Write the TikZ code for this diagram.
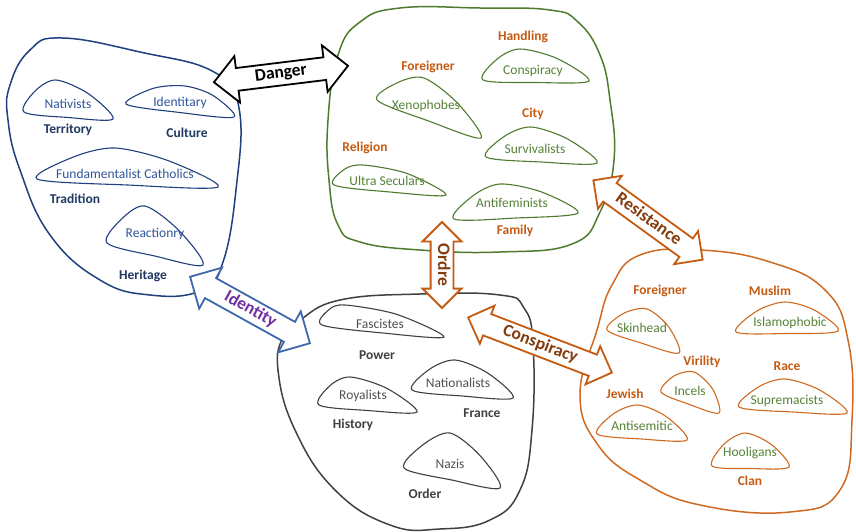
\documentclass[tikz,border=0pt]{standalone}
\usepackage{fontspec}
\setmainfont{Carlito}
\usetikzlibrary{shapes.arrows,calc}
\definecolor{bline}{HTML}{203F7F}
\definecolor{btext}{HTML}{2F5597}
\definecolor{blab}{HTML}{1F3864}
\definecolor{gline}{HTML}{4F7B2E}
\definecolor{gtext}{HTML}{548235}
\definecolor{oline}{HTML}{D06A22}
\definecolor{olab}{HTML}{C55A11}
\definecolor{obrown}{HTML}{843C0C}
\definecolor{kline}{HTML}{404040}
\definecolor{ktext}{HTML}{505050}
\definecolor{aline}{HTML}{3D68AE}
\definecolor{purp}{HTML}{7030A0}
\newcommand\inb[4]{\draw[#1,small] plot[smooth cycle, tension=0.5] coordinates {#2 ($#2!0.5!#3!7pt!90:#3$) #3 ($#3!0.5!#4!7pt!90:#4$) #4 ($#4!0.5!#2!2pt!90:#2$)};}
\begin{document}
\begin{tikzpicture}[x=1pt,y=-1pt,
  big/.style={line width=1.5pt},
  small/.style={line width=1.1pt},
  inl/.style={font=\fontsize{13.5}{15}\selectfont, inner sep=1pt},
  lab/.style={font=\fontsize{13.5}{15}\selectfont\bfseries, inner sep=1pt},
  darr/.style={double arrow, draw, fill=white, line width=1.8pt,
    double arrow head extend=12pt, inner xsep=0pt, inner ysep=3.5pt,
    font=\fontsize{17.5}{17}\selectfont\bfseries, text height=11pt, text depth=3pt,
    anchor=center},
  oarr/.style={darr, draw=olab, text=obrown, double arrow head extend=9pt}]
\useasboundingbox (0,0) rectangle (856,532);

% big blobs
\draw[bline,big] plot[smooth cycle, tension=0.75] coordinates {(10,85) (30,50) (62,38) (140,52) (214,72) (239,108) (236,190) (222,265) (200,291) (150,295) (100,280) (50,235) (20,170) (8,120)};
\draw[gline,big] plot[smooth cycle, tension=0.75] coordinates {(338,55) (360,22) (400,8) (480,8) (550,10) (578,22) (600,55) (610,100) (614,160) (600,212) (572,244) (500,252) (420,250) (360,242) (338,225) (329,180) (328,120)};
\draw[kline,big] plot[smooth cycle, tension=0.75] coordinates {(300,320) (340,300) (420,294) (500,295) (524,308) (533,345) (532,430) (520,490) (490,520) (440,529) (390,525) (335,490) (295,430) (278,370) (284,335)};
\draw[oline,big] plot[smooth cycle, tension=0.75] coordinates {(597,330) (612,285) (640,255) (700,250) (770,262) (825,290) (848,340) (852,420) (840,490) (790,512) (700,505) (640,480) (598,445) (580,395)};

% blue inner
\inb{bline}{(24,112)}{(56,80)}{(113,119)}
\inb{bline}{(126,104)}{(185,86)}{(234,117)}
\inb{bline}{(37,179)}{(115,148)}{(218,187)}
\inb{bline}{(107,243)}{(145,206)}{(203,265)}
\node[inl,text=btext] (nat) at (68,104) {Nativists};
\node[inl,text=btext] (ide) at (180,103) {Identitary};
\node[inl,text=btext] (fun) at (125,174) {Fundamentalist Catholics};
\node[inl,text=btext] (rea) at (155,234) {Reactionry};
\node[lab,text=blab] (ter) at (68,130) {Territory};
\node[lab,text=blab] (cul) at (187,133) {Culture};
\node[lab,text=blab] (tra) at (75,199) {Tradition};
\node[lab,text=blab] (her) at (143,276) {Heritage};

% green inner
\inb{gline}{(483,80)}{(520,49)}{(589,81)}
\inb{gline}{(377,100)}{(424,78)}{(481,138)}
\inb{gline}{(486,157)}{(531,127)}{(597,163)}
\inb{gline}{(334,185)}{(363,165)}{(446,195)}
\inb{gline}{(454,219)}{(500,184)}{(578,213)}
\node[inl,text=gtext] (con) at (533,71) {Conspiracy};
\node[inl,text=gtext] (xen) at (426,106) {Xenophobes};
\node[inl,text=gtext] (sur) at (535,149) {Survivalists};
\node[inl,text=gtext] (ult) at (387,181) {Ultra Seculars};
\node[inl,text=gtext] (ant) at (512,203) {Antifeminists};
\node[lab,text=olab] (han) at (523,37) {Handling};
\node[lab,text=olab] (for) at (428,67) {Foreigner};
\node[lab,text=olab] (cit) at (533,114) {City};
\node[lab,text=olab] (rel) at (365,148) {Religion};
\node[lab,text=olab] (fam) at (515,231) {Family};

% black inner
\inb{kline}{(322,325)}{(345,305)}{(444,337)}
\inb{kline}{(412,390)}{(455,360)}{(513,398)}
\inb{kline}{(319,405)}{(350,377)}{(417,412)}
\inb{kline}{(404,468)}{(450,433)}{(500,488)}
\node[inl,text=ktext] (fas) at (380,324) {Fascistes};
\node[inl,text=ktext] (nati) at (458,383) {Nationalists};
\node[inl,text=ktext] (roy) at (363,396) {Royalists};
\node[inl,text=ktext] (naz) at (450,464) {Nazis};
\node[lab,text=kline] (pow) at (377,355) {Power};
\node[lab,text=kline] (fra) at (482,413) {France};
\node[lab,text=kline] (his) at (353,425) {History};
\node[lab,text=kline] (ord) at (425,494) {Order};

% orange inner
\inb{oline}{(607,330)}{(647,309)}{(679,353)}
\inb{oline}{(736,332)}{(785,302)}{(838,331)}
\inb{oline}{(661,392)}{(694,372)}{(719,413)}
\inb{oline}{(739,407)}{(785,379)}{(847,413)}
\inb{oline}{(597,434)}{(638,405)}{(687,440)}
\inb{oline}{(712,466)}{(745,433)}{(789,467)}
\node[inl,text=gtext] (ski) at (642,328) {Skinhead};
\node[inl,text=gtext] (isl) at (790,323) {Islamophobic};
\node[inl,text=gtext] (inc) at (690,391) {Incels};
\node[inl,text=gtext] (sup) at (787,401) {Supremacists};
\node[inl,text=gtext] (ans) at (642,426) {Antisemitic};
\node[inl,text=gtext] (hoo) at (750,453) {Hooligans};
\node[lab,text=olab] (for2) at (660,291) {Foreigner};
\node[lab,text=olab] (mus) at (770,291) {Muslim};
\node[lab,text=olab] (vir) at (702,362) {Virility};
\node[lab,text=olab] (rac) at (787,366) {Race};
\node[lab,text=olab] (jew) at (625,394) {Jewish};
\node[lab,text=olab] (cla) at (750,481) {Clan};

% arrows
\node[darr, draw=black, minimum height=135pt, rotate=7] (danger) at (281,74) {Danger};
\node[darr, draw=aline, text=purp, minimum height=137pt, rotate=-29] (identity) at (250,310) {Identity};
\node[oarr, minimum height=86pt, rotate=-90, double arrow head extend=8pt] (ordre) at (442,265) {Ordre};
\node[oarr, minimum height=135pt, rotate=-36] (resist) at (648,220) {Resistance};
\node[oarr, minimum height=154pt, rotate=-21] (consp) at (540,345) {Conspiracy};
\end{tikzpicture}
\end{document}
